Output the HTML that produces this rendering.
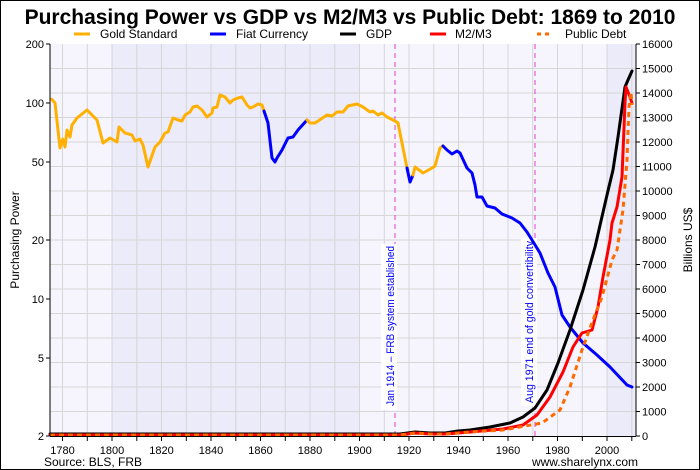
<!DOCTYPE html>
<html><head><meta charset="utf-8"><style>
html,body{margin:0;padding:0;background:#fff}
svg{display:block;font-family:"Liberation Sans",sans-serif}
</style></head><body>
<svg width="700" height="470" viewBox="0 0 700 470" xmlns="http://www.w3.org/2000/svg">
<rect x="0.5" y="0.5" width="699" height="469" fill="#fff" stroke="#000"/>
<text x="350" y="24" text-anchor="middle" font-size="21" font-weight="bold">Purchasing Power vs GDP vs M2/M3 vs Public Debt: 1869 to 2010</text>
<g font-size="12">
<line x1="74" y1="34" x2="90" y2="34" stroke="#ffb000" stroke-width="3"/><text x="100" y="38">Gold Standard</text>
<line x1="210" y1="34" x2="226" y2="34" stroke="#0000ff" stroke-width="3"/><text x="236" y="38">Fiat Currency</text>
<line x1="340" y1="34" x2="356" y2="34" stroke="#000" stroke-width="3"/><text x="366" y="38">GDP</text>
<line x1="430" y1="34" x2="446" y2="34" stroke="#ff0000" stroke-width="3"/><text x="455" y="38">M2/M3</text>
<line x1="537" y1="34" x2="553" y2="34" stroke="#ff6a00" stroke-width="3" stroke-dasharray="4,4"/><text x="565" y="38">Public Debt</text>
</g>
<rect x="50" y="44" width="586" height="392" fill="#f6f5fd"/>
<rect x="112" y="44" width="248" height="392" fill="#ecebf9"/>
<rect x="607" y="44" width="29" height="392" fill="#ecebf9"/>
<g stroke="#d6d6d6" stroke-width="1">
<path d="M62.5 44V436M87.3 44V436M112 44V436M136.8 44V436M161.5 44V436M186.3 44V436M211 44V436M235.8 44V436M260.5 44V436M285.3 44V436M310 44V436M334.8 44V436M359.5 44V436M384.3 44V436M409 44V436M433.8 44V436M458.5 44V436M483.3 44V436M508 44V436M532.8 44V436M557.5 44V436M582.3 44V436M607 44V436M631.8 44V436"/>
<path d="M50 411.5H636M50 387H636M50 362.5H636M50 338H636M50 313.5H636M50 289H636M50 264.5H636M50 240H636M50 215.5H636M50 191H636M50 166.5H636M50 142H636M50 117.5H636M50 93H636M50 68.5H636"/>
</g>
<g stroke="#e040d0" stroke-width="1" stroke-dasharray="5,4">
<line x1="395" y1="44" x2="395" y2="436"/>
<line x1="535" y1="44" x2="535" y2="436"/>
</g>
<rect x="381" y="244" width="16" height="166" fill="#fff"/>
<text transform="translate(394,406) rotate(-90)" font-size="11" fill="#0000ff" textLength="160" lengthAdjust="spacingAndGlyphs">Jan 1914 – FRB system established</text>
<rect x="521" y="238" width="16" height="168" fill="#fff"/>
<text transform="translate(533,403) rotate(-90)" font-size="11" fill="#0000ff" textLength="162" lengthAdjust="spacingAndGlyphs">Aug 1971 end of gold convertibility</text>
<g fill="none" stroke-width="3" stroke-linejoin="round" stroke-linecap="round">
<polyline stroke="#ffb000" points="51.7,99.3 55,103 60,148 62.7,139 65,147 67,130 70,137 72,125 77,118 87,110 97,120 103,143 110,138 117,142 119,127 125,133 132,135 135,141 140,139 143,145 148,167 155,147 160,142 165,133 168,132 173,118 178,120 182,121 185,115 190,112 193,107 197,106 202,110 207,117 212,113 213,108 217,107 220,95 225,97 230,103 233,100 238,98 242,97 247,105 250,108 253,107 258,104 262,105 264,111"/>
<polyline stroke="#0000ff" points="264,111 268,123 272,158 275,162 277,158 282,150 288,138 293,137 298,130 307,120"/>
<polyline stroke="#ffb000" points="307,120 310,123 315,123 327,115 332,116 337,112 343,112 348,106 357,104 363,107 370,112 373,111 378,115 382,113 387,117 395,121 398,123 402,143 407,168"/>
<polyline stroke="#0000ff" points="407,168 410,182 413,175"/>
<polyline stroke="#ffb000" points="413,175 415,167 423,173 432,168 435,166 440,148 443,146"/>
<polyline stroke="#0000ff" points="443,146 447,150 452,154 457,151 460,153 467,168 472,173 475,185 477,197 482,197 487,206 495,208 502,214 512,218 520,223 527,232 532,240 540,253 548,273 555,287 562,315 570,327 583,343 597,355 610,367 627,385 632,387"/>
<polyline stroke="#000" points="50,434 400,434 415,432 430,433 445,433 458,431 470,430 490,427 510,423 523,417 535,408 547,390 558,363 570,330 583,290 595,247 607,195 613,170 618,137 625,87 628,80 632,71"/>
<polyline stroke="#ff0000" points="50,435 400,435 415,433 430,434 445,434 458,433 470,432 503,429 523,425 537,415 550,397 563,372 573,347 582,333 592,330 598,307 603,277 610,240 612,223 617,207 622,177 625,103 626,87 630,97 632,103"/>
<polyline stroke="#ff6a00" stroke-dasharray="5,4" stroke-linecap="butt" points="50,435 400,435 415,433 430,434 445,434 458,433 470,432 503,430 542,423 560,410 570,387 582,350 593,320 602,297 612,260 617,250 623,210 627,160 629,107 631,92 632,105"/>
</g>
<g stroke="#000" stroke-width="1">
<line x1="50" y1="44" x2="50" y2="436"/>
<line x1="636" y1="44" x2="636" y2="436"/>
<line x1="50" y1="436.5" x2="636" y2="436.5"/>
<path d="M46 44H50M46 103H50M46 162H50M46 240H50M46 299H50M46 358H50M46 436H50"/>
<path d="M636 436H640M636 411.5H640M636 387H640M636 362.5H640M636 338H640M636 313.5H640M636 289H640M636 264.5H640M636 240H640M636 215.5H640M636 191H640M636 166.5H640M636 142H640M636 117.5H640M636 93H640M636 68.5H640M636 44H640"/>
<path d="M62.5 436V441M87.3 436V441M112 436V441M136.8 436V441M161.5 436V441M186.3 436V441M211 436V441M235.8 436V441M260.5 436V441M285.3 436V441M310 436V441M334.8 436V441M359.5 436V441M384.3 436V441M409 436V441M433.8 436V441M458.5 436V441M483.3 436V441M508 436V441M532.8 436V441M557.5 436V441M582.3 436V441M607 436V441M631.8 436V441"/>
</g>
<g font-size="11" text-anchor="end">
<text x="44" y="48">200</text><text x="44" y="107">100</text><text x="44" y="166">50</text><text x="44" y="244">20</text><text x="44" y="303">10</text><text x="44" y="362">5</text><text x="44" y="440">2</text>
</g>
<g font-size="11">
<text x="642" y="440">0</text><text x="642" y="415.5">1000</text><text x="642" y="391">2000</text><text x="642" y="366.5">3000</text><text x="642" y="342">4000</text><text x="642" y="317.5">5000</text><text x="642" y="293">6000</text><text x="642" y="268.5">7000</text><text x="642" y="244">8000</text><text x="642" y="219.5">9000</text><text x="642" y="195">10000</text><text x="642" y="170.5">11000</text><text x="642" y="146">12000</text><text x="642" y="121.5">13000</text><text x="642" y="97">14000</text><text x="642" y="72.5">15000</text><text x="642" y="48">16000</text>
</g>
<g font-size="11" text-anchor="middle">
<text x="62.5" y="454">1780</text><text x="112" y="454">1800</text><text x="161.5" y="454">1820</text><text x="211" y="454">1840</text><text x="260.5" y="454">1860</text><text x="310" y="454">1880</text><text x="359.5" y="454">1900</text><text x="409" y="454">1920</text><text x="458.5" y="454">1940</text><text x="508" y="454">1960</text><text x="557.5" y="454">1980</text><text x="607" y="454">2000</text>
</g>
<text x="44" y="466" font-size="12">Source: BLS, FRB</text>
<text x="638" y="466" font-size="12" text-anchor="end">www.sharelynx.com</text>
<text transform="translate(19,240) rotate(-90)" font-size="12" text-anchor="middle">Purchasing Power</text>
<text transform="translate(692,240) rotate(-90)" font-size="12" text-anchor="middle">Billions US$</text>
</svg>
</body></html>
